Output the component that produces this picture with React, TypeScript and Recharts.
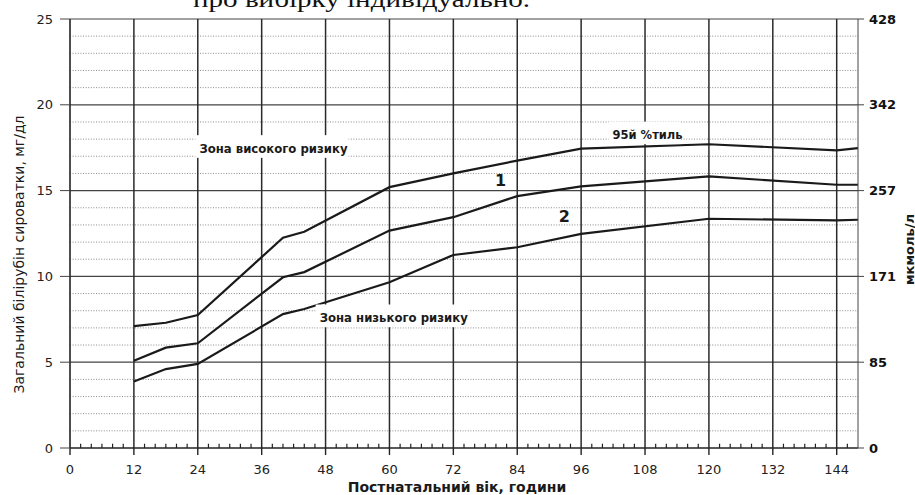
import {
  Label,
  Line,
  LineChart,
  ReferenceDot,
  ReferenceLine,
  XAxis,
  YAxis,
} from "recharts";

// postnatal age, hours
const hours = [12, 18, 24, 40, 44, 60, 72, 84, 96, 120, 144, 148];
// bilirubin, mg/dl
const p95 = [7.1, 7.3, 7.75, 12.25, 12.6, 15.2, 16.0, 16.75, 17.45, 17.7, 17.35, 17.48];
const curve1 = [5.08, 5.85, 6.1, 9.95, 10.25, 12.67, 13.45, 14.68, 15.25, 15.83, 15.34, 15.34];
const curve2 = [3.87, 4.6, 4.9, 7.8, 8.1, 9.66, 11.25, 11.7, 12.48, 13.36, 13.26, 13.3];

const hourTicks = [0, 12, 24, 36, 48, 60, 72, 84, 96, 108, 120, 132, 144];
const minorHours = [
  2, 4, 6, 8, 10, 14, 16, 18, 20, 22, 26, 28, 30, 32, 34, 38, 40, 42, 44, 46,
  50, 52, 54, 56, 58, 62, 64, 66, 68, 70, 74, 76, 78, 80, 82, 86, 88, 90, 92,
  94, 98, 100, 102, 104, 106, 110, 112, 114, 116, 118, 122, 124, 126, 128,
  130, 134, 136, 138, 140, 142, 146,
];
const mgTicks = [0, 5, 10, 15, 20, 25];
const umolLabels = ["0", "85", "171", "257", "342", "428"];
const minorLevels = [1, 2, 3, 4, 6, 7, 8, 9, 11, 12, 13, 14, 16, 17, 18, 19, 21, 22, 23, 24];

const notes = [
  { text: "Зона високого ризику", hour: 24.3, level: 17.2 },
  { text: "95й %тиль", hour: 101.9, level: 18.0 },
  { text: "Зона низького ризику", hour: 46.9, level: 7.33 },
  { text: "1", hour: 79.8, level: 15.27 },
  { text: "2", hour: 91.8, level: 13.17 },
];

const data = hours.map((hour, i) => ({
  hour,
  p95: p95[i],
  curve1: curve1[i],
  curve2: curve2[i],
}));

const FONT = '"DejaVu Sans", "Liberation Sans", sans-serif';
const INK = "#1a1a1a";

const noteFont: Record<string, { size: number; weight: string; box: boolean }> = {
  "Зона високого ризику": { size: 11.7, weight: "bold", box: true },
  "95й %тиль": { size: 11.5, weight: "bold", box: true },
  "Зона низького ризику": { size: 11.7, weight: "bold", box: true },
  "1": { size: 16, weight: "bold", box: false },
  "2": { size: 16, weight: "bold", box: false },
};

function NoteShape({ cx, cy, text }: any) {
  const f = noteFont[text];
  const w = text.length * f.size * 0.62;
  return (
    <g>
      {f.box && (
        <rect x={cx - 4} y={cy - f.size - 6} width={w + 8} height={f.size + 11} fill="#fff" />
      )}
      <text x={cx} y={cy} fontFamily={FONT} fontSize={f.size} fontWeight={f.weight} fill={INK}>
        {text}
      </text>
    </g>
  );
}

const XTitle = (props: any) => {
  const vb = props.viewBox;
  return (
    <text
      x={vb.x + vb.width / 2 - 7}
      y={vb.y + 44}
      textAnchor="middle"
      fontFamily={FONT}
      fontSize={14}
      fontWeight="bold"
      fill={INK}
    >
      Постнатальний вік, години
    </text>
  );
};

const LeftTitle = (props: any) => {
  const vb = props.viewBox;
  const cx = vb.x - 11;
  const cy = vb.y + vb.height / 2 + 21;
  return (
    <text
      transform={`translate(${cx}, ${cy}) rotate(-90)`}
      textAnchor="middle"
      dominantBaseline="central"
      fontFamily={FONT}
      fontSize={14}
      fill={INK}
    >
      Загальний білірубін сироватки, мг/дл
    </text>
  );
};

const RightTitle = (props: any) => {
  const vb = props.viewBox;
  const cx = vb.x + 51;
  const cy = vb.y + vb.height / 2 + 16;
  return (
    <text
      transform={`translate(${cx}, ${cy}) rotate(-90)`}
      textAnchor="middle"
      dominantBaseline="central"
      fontFamily={FONT}
      fontSize={13}
      fontWeight="bold"
      fill={INK}
    >
      мкмоль/л
    </text>
  );
};

export default function App() {
  return (
    <div style={{ position: "absolute", left: 0, top: 0, width: 915, height: 495, background: "#fff" }}>
      <LineChart
        width={915}
        height={495}
        data={data}
        margin={{ top: 19, right: 7, bottom: 0, left: 30 }}
      >
        <XAxis
          dataKey="hour"
          type="number"
          domain={[0, 148]}
          ticks={hourTicks}
          interval={0}
          height={47}
          tickSize={7}
          tickMargin={10}
          axisLine={{ stroke: "#222", strokeWidth: 1.6 }}
          tickLine={{ stroke: "#222", strokeWidth: 1.4 }}
          tick={{ fontSize: 13, fill: "#222", fontFamily: FONT }}
        >
          <Label content={XTitle} />
        </XAxis>
        <YAxis
          yAxisId="left"
          domain={[0, 25]}
          ticks={mgTicks}
          interval={0}
          width={40}
          tickSize={10}
          tickMargin={7}
          axisLine={{ stroke: "#222", strokeWidth: 1.6 }}
          tickLine={{ stroke: "#444", strokeWidth: 1 }}
          tick={{ fontSize: 13, fill: "#222", fontFamily: FONT }}
        >
          <Label content={LeftTitle} />
        </YAxis>
        <YAxis
          yAxisId="right"
          orientation="right"
          domain={[0, 25]}
          ticks={mgTicks}
          interval={0}
          width={50}
          tickSize={6}
          tickMargin={5}
          tickFormatter={(v: number) => umolLabels[mgTicks.indexOf(v)]}
          axisLine={{ stroke: "#444", strokeWidth: 1 }}
          tickLine={{ stroke: "#444", strokeWidth: 1 }}
          tick={{ fontSize: 13, fill: "#111", fontFamily: FONT, fontWeight: "bold" }}
        >
          <Label content={RightTitle} />
        </YAxis>

        {minorLevels.map((v) => (
          <ReferenceLine
            key={`m${v}`}
            yAxisId="left"
            y={v}
            stroke="#8c8c8c"
            strokeDasharray="1 1.6"
            strokeWidth={1}
          />
        ))}
        {mgTicks.slice(1).map((v) => (
          <ReferenceLine key={`M${v}`} yAxisId="left" y={v} stroke="#444" strokeWidth={1.2} />
        ))}
        {hourTicks.slice(1).map((h) => (
          <ReferenceLine key={`v${h}`} yAxisId="left" x={h} stroke="#2a2a2a" strokeWidth={1.5} />
        ))}
        {minorHours.map((h) => (
          <ReferenceLine
            key={`t${h}`}
            yAxisId="left"
            segment={[
              { x: h, y: 0 },
              { x: h, y: 0.25 },
            ]}
            stroke="#222"
            strokeWidth={1.2}
          />
        ))}
        {notes.map((n) => (
          <ReferenceDot
            key={n.text}
            yAxisId="left"
            x={n.hour}
            y={n.level}
            r={1}
            shape={(p: any) => <NoteShape cx={p.cx} cy={p.cy} text={n.text} />}
          />
        ))}

        {/* keeps the µmol/l axis bound to the same data (not drawn) */}
        <Line yAxisId="right" dataKey="p95" type="linear" stroke="none" dot={false} activeDot={false} isAnimationActive={false} />
        <Line yAxisId="left" dataKey="p95" type="linear" stroke={INK} strokeWidth={2.2} dot={false} isAnimationActive={false} />
        <Line yAxisId="left" dataKey="curve1" type="linear" stroke={INK} strokeWidth={2.2} dot={false} isAnimationActive={false} />
        <Line yAxisId="left" dataKey="curve2" type="linear" stroke={INK} strokeWidth={2.2} dot={false} isAnimationActive={false} />
      </LineChart>
      <svg
        width={915}
        height={30}
        style={{ position: "absolute", left: 0, top: 0, pointerEvents: "none" }}
      >
        <text
          x={193}
          y={7}
          fontFamily='"Liberation Serif", serif'
          fontSize={24}
          textLength={337}
          lengthAdjust="spacingAndGlyphs"
          fill="#111"
        >
          про вибірку індивідуально.
        </text>
      </svg>
    </div>
  );
}
